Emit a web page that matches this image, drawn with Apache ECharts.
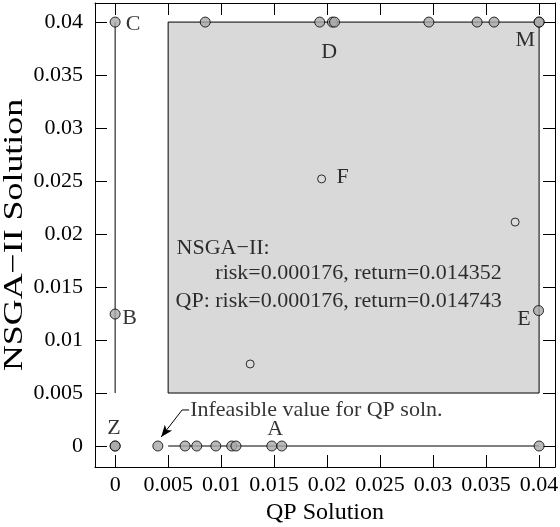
<!DOCTYPE html>
<html>
<head>
<meta charset="utf-8">
<script src="https://cdn.jsdelivr.net/npm/echarts@6/dist/echarts.min.js"></script>
<style>html,body{margin:0;padding:0;background:#fff}#c{width:560px;height:527px}</style>
</head>
<body>
<div id="c"></div>
<script>
// ---- data ----
var tickValues = [0, 0.005, 0.01, 0.015, 0.02, 0.025, 0.03, 0.035, 0.04];
var tickLabels = ['0', '0.005', '0.01', '0.015', '0.02', '0.025', '0.03', '0.035', '0.04'];
var xTitle = 'QP Solution';
var yTitle = 'NSGA\u2212II Solution';
// points lying on the boundary lines (QP solution, NSGA-II solution)
var boundaryQP   = [0, 0.0085, 0.0193, 0.0205, 0.0207, 0.0296, 0.03415, 0.03575, 0.04, 0.04,
                    0, 0.03995, 0.04,
                    0, 0, 0.00403, 0.0066, 0.0077, 0.0095, 0.0110, 0.0114, 0.01478, 0.01572];
var boundaryNSGA = [0.04, 0.04, 0.04, 0.04, 0.04, 0.04, 0.04, 0.04, 0.04, 0.04,
                    0.01245, 0.01278, 0,
                    0, 0, 0, 0, 0, 0, 0, 0, 0, 0];
// interior points
var interiorQP   = [0.01948, 0.03774, 0.01274];
var interiorNSGA = [0.0252, 0.02113, 0.00774];
// region box and lines
var boxQP = [0.005, 0.04];
var boxNSGA = [0.005, 0.04];
var leftLine = [[0, 0.005], [0, 0.04]];
var bottomLine = [[0.005, 0], [0.04, 0]];
// point labels (text centres): [qp, nsga, text]
var pointLabels = [
  [0.0017, 0.0398, 'C'], [0.0202, 0.0372, 'D'], [0.0387, 0.0383, 'M'], [0.02146, 0.0254, 'F'],
  [0.00137, 0.0121, 'B'], [0.03858, 0.01193, 'E'], [-0.0001, 0.00165, 'Z'], [0.0151, 0.0016, 'A']
];
// annotation texts (left edge, middle): [qp, nsga, text]
var notes = [
  [0.0058, 0.01868, 'NSGA\u2212II:'],
  [0.00945, 0.01632, 'risk=0.000176, return=0.014352'],
  [0.0057, 0.01368, 'QP: risk=0.000176, return=0.014743'],
  [0.00708, 0.0034, 'Infeasible value for QP soln.']
];
var arrowFrom = [0.00632, 0.0034], arrowTo = [0.00434, 0.00085], arrowTail = [0.00698, 0.0034];

// ---- chart ----
var FONT = 'Liberation Serif';
var chart = echarts.init(document.getElementById('c'), null, {renderer: 'canvas'});
function zip(a, b) { return a.map(function (v, i) { return [v, b[i]]; }); }
function axisBase(pos, show) {
  return {
    type: 'value', position: pos,
    axisLine: {show: true, onZero: false, lineStyle: {color: '#000', width: 1}},
    axisTick: {show: true, inside: true, length: 12, customValues: tickValues, lineStyle: {color: '#000', width: 1}},
    axisLabel: {show: show, customValues: tickValues, color: '#000', fontFamily: FONT, fontSize: 22,
      formatter: function (v) { var i = tickValues.indexOf(v); return i >= 0 ? tickLabels[i] : ''; }},
    splitLine: {show: false}
  };
}
var xB = axisBase('bottom', true); xB.min = -0.0019; xB.max = 0.0415;
xB.name = xTitle; xB.nameLocation = 'middle'; xB.nameGap = 33;
xB.nameTextStyle = {color: '#000', fontFamily: FONT, fontSize: 24, verticalAlign: 'top'};
xB.axisLabel.margin = 7;
var xT = axisBase('top', false); xT.min = -0.0019; xT.max = 0.0415;
var yL = axisBase('left', true); yL.min = -0.00198; yL.max = 0.0418;
yL.axisLabel.margin = 12;
var yR = axisBase('right', false); yR.min = -0.00198; yR.max = 0.0418;

chart.setOption({
  animation: false,
  backgroundColor: '#fff',
  grid: {left: 95, right: 5, top: 3, bottom: 60, containLabel: false, outerBoundsMode: 'none'},
  xAxis: [xB, xT],
  yAxis: [yL, yR],
  graphic: [{
    type: 'text', x: 15, y: 235, rotation: Math.PI / 2, scaleX: 1.28, silent: true,
    style: {text: yTitle, font: '28px "Liberation Serif"', fill: '#000', align: 'center', verticalAlign: 'middle'}
  }],
  series: [
    { // gray region
      type: 'line', data: [], silent: true, z: 1,
      markArea: {silent: true,
        itemStyle: {color: '#d9d9d9', borderColor: '#000', borderWidth: 1},
        data: [[{coord: [boxQP[0], boxNSGA[1]]}, {coord: [boxQP[1], boxNSGA[0]]}]]}
    },
    {type: 'line', data: leftLine, symbol: 'none', lineStyle: {color: '#000', width: 1}, z: 2, silent: true},
    {type: 'line', data: bottomLine, symbol: 'none', lineStyle: {color: '#000', width: 1}, z: 2, silent: true},
    {type: 'line', data: [arrowFrom, arrowTail], symbol: 'none', lineStyle: {color: '#000', width: 1}, z: 2, silent: true,
      markLine: {silent: true, symbol: ['none', 'arrow'], symbolSize: [7, 12], label: {show: false},
        lineStyle: {color: '#000', width: 1, type: 'solid'},
        data: [[{coord: arrowFrom}, {coord: arrowTo}]]}},
    {type: 'scatter', data: zip(boundaryQP, boundaryNSGA), symbol: 'circle', symbolSize: 10, z: 5,
      itemStyle: {color: '#a9a9a9', borderColor: '#000', borderWidth: 1}},
    {type: 'scatter', data: zip(interiorQP, interiorNSGA), symbol: 'circle', symbolSize: 8, z: 5,
      itemStyle: {color: '#dcdcdc', borderColor: '#000', borderWidth: 1}},
    {type: 'scatter', data: pointLabels, symbolSize: 0, z: 6, silent: true,
      label: {show: true, position: 'inside', color: '#000', fontFamily: FONT, fontSize: 22,
        formatter: function (p) { return p.data[2]; }}},
    {type: 'scatter', data: notes, symbolSize: 0, z: 6, silent: true,
      label: {show: true, position: 'right', distance: 0, color: '#000', fontFamily: FONT, fontSize: 22,
        formatter: function (p) { return p.data[2]; }}}
  ]
});
</script>
</body>
</html>
